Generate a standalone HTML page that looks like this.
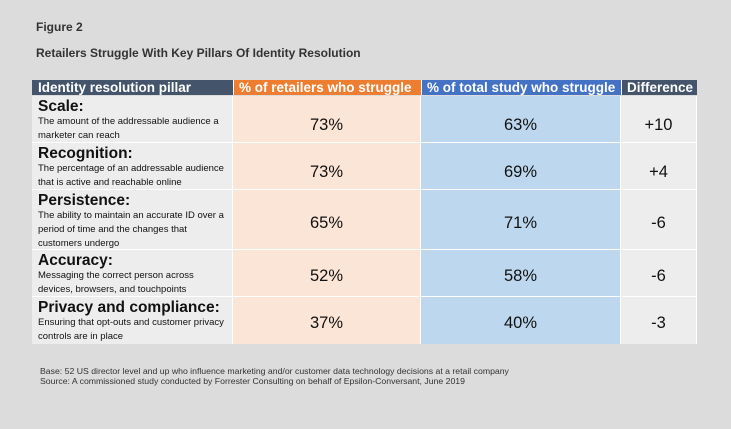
<!DOCTYPE html>
<html><head><style>
body{margin:0;width:731px;height:429px;background:#dcdcdc;font-family:"Liberation Sans",sans-serif;position:relative;overflow:hidden}
.a{position:absolute}
.t{font-weight:bold;font-size:12px;color:#333}
.h{position:absolute;top:80px;height:15px;color:#fff;font-weight:bold;font-size:13.5px;line-height:16px;white-space:nowrap;overflow:hidden}
.c{position:absolute;box-sizing:border-box;border-bottom:1px solid #fff;border-right:1px solid #fff}
.c1{left:32px;width:201px;background:#ededed;padding:2px 0 0 6px}
.c2{left:233px;width:188px;background:#fbe5d6}
.c3{left:421px;width:200px;background:#bdd7ee}
.c4{left:621px;width:76px;background:#ededed}
.n{font-size:16.5px;color:#111;text-align:center}
.tt{font-weight:bold;font-size:15.5px;line-height:17px;color:#111}
.d{font-size:9.5px;line-height:14px;color:#111;white-space:nowrap}
.f{font-size:8.7px;color:#333;left:40px;white-space:nowrap}
</style></head><body>
<div class="a t" style="left:36px;top:20px">Figure 2</div>
<div class="a t" style="left:36px;top:46px">Retailers Struggle With Key Pillars Of Identity Resolution</div>
<div class="h" style="left:32px;width:201px;background:#44546a;padding-left:6px;box-sizing:border-box">Identity resolution pillar</div>
<div class="h" style="left:233px;width:188px;background:#ed7d31;padding-left:5px;box-sizing:border-box;border-left:1px solid #fff">% of retailers who struggle</div>
<div class="h" style="left:421px;width:200px;background:#4472c4;padding-left:5px;box-sizing:border-box;border-left:1px solid #fff">% of total study who struggle</div>
<div class="h" style="left:621px;width:76px;background:#44546a;padding-left:5px;box-sizing:border-box;border-left:1px solid #fff">Difference</div>

<div class="c c1" style="top:96px;height:47px"><div class="tt">Scale:</div><div class="d">The amount of the addressable audience a<br>marketer can reach</div></div>
<div class="c c2 n" style="top:96px;height:47px;padding-top:20px">73%</div>
<div class="c c3 n" style="top:96px;height:47px;padding-top:20px">63%</div>
<div class="c c4 n" style="top:96px;height:47px;padding-top:20px">+10</div>

<div class="c c1" style="top:143px;height:47px"><div class="tt">Recognition:</div><div class="d">The percentage of an addressable audience<br>that is active and reachable online</div></div>
<div class="c c2 n" style="top:143px;height:47px;padding-top:20px">73%</div>
<div class="c c3 n" style="top:143px;height:47px;padding-top:20px">69%</div>
<div class="c c4 n" style="top:143px;height:47px;padding-top:20px">+4</div>

<div class="c c1" style="top:190px;height:60px"><div class="tt">Persistence:</div><div class="d">The ability to maintain an accurate ID over a<br>period of time and the changes that<br>customers undergo</div></div>
<div class="c c2 n" style="top:190px;height:60px;padding-top:24px">65%</div>
<div class="c c3 n" style="top:190px;height:60px;padding-top:24px">71%</div>
<div class="c c4 n" style="top:190px;height:60px;padding-top:24px">-6</div>

<div class="c c1" style="top:250px;height:47px"><div class="tt">Accuracy:</div><div class="d">Messaging the correct person across<br>devices, browsers, and touchpoints</div></div>
<div class="c c2 n" style="top:250px;height:47px;padding-top:17px">52%</div>
<div class="c c3 n" style="top:250px;height:47px;padding-top:17px">58%</div>
<div class="c c4 n" style="top:250px;height:47px;padding-top:17px">-6</div>

<div class="c c1" style="top:297px;height:47px;border-bottom:none"><div class="tt">Privacy and compliance:</div><div class="d">Ensuring that opt-outs and customer privacy<br>controls are in place</div></div>
<div class="c c2 n" style="top:297px;height:47px;padding-top:17px;border-bottom:none">37%</div>
<div class="c c3 n" style="top:297px;height:47px;padding-top:17px;border-bottom:none">40%</div>
<div class="c c4 n" style="top:297px;height:47px;padding-top:17px;border-bottom:none">-3</div>

<div class="a f" style="top:366px">Base: 52 US director level and up who influence marketing and/or customer data technology decisions at a retail company</div>
<div class="a f" style="top:376px">Source: A commissioned study conducted by Forrester Consulting on behalf of Epsilon-Conversant, June 2019</div>
</body></html>
